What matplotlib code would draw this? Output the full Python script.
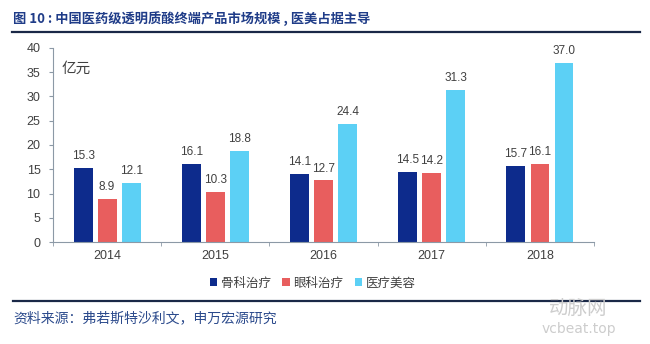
import matplotlib.pyplot as plt
import numpy as np

plt.rcParams['font.family'] = ['Noto Sans CJK SC', 'DejaVu Sans']

years = ['2014', '2015', '2016', '2017', '2018']
series = ['骨科治疗', '眼科治疗', '医疗美容']
ortho = [15.3, 16.1, 14.1, 14.5, 15.7]
ophth = [8.9, 10.3, 12.7, 14.2, 16.1]
aesthetic = [12.1, 18.8, 24.4, 31.3, 37.0]
colors = ['#0D2B8C', '#E85E5E', '#5CD0F5']

fig = plt.figure(figsize=(6.5, 3.44), dpi=100)
ax = fig.add_axes([0.0815, 0.2965, 0.8325, 0.564])

x = np.arange(len(years))
width = 0.175
step = 0.222
for i, (name, vals) in enumerate(zip(series, [ortho, ophth, aesthetic])):
    pos = x + (i - 1) * step
    ax.bar(pos, vals, width, color=colors[i], label=name)
    for p, v in zip(pos, vals):
        ax.text(p, v + 1.2, '%.1f' % v, ha='center', va='bottom',
                fontsize=8.5, color='#404040', family='Liberation Sans')

ax.set_xlim(-0.5, len(years) - 0.5)
ax.set_ylim(0, 40)
ax.set_yticks(range(0, 41, 5))
ax.set_xticks(x)
ax.set_xticklabels(years)
ax.set_xticks(np.arange(-0.5, len(years), 1), minor=True)
ax.tick_params(axis='x', which='major', length=0, pad=6)
ax.tick_params(axis='x', which='minor', length=3, color='#8C99A6', direction='out')
ax.tick_params(axis='y', length=3, color='#8C99A6', pad=6)
for lab in ax.get_xticklabels() + ax.get_yticklabels():
    lab.set_fontfamily('Liberation Sans')
    lab.set_fontsize(9)
    lab.set_color('#404040')
for s in ['top', 'right']:
    ax.spines[s].set_visible(False)
for s in ['left', 'bottom']:
    ax.spines[s].set_color('#8C99A6')
    ax.spines[s].set_linewidth(0.8)

ax.text(0.015, 0.93, '亿元', transform=ax.transAxes, fontsize=10.5,
        color='#404040', va='top')

leg = ax.legend(loc='upper center', bbox_to_anchor=(0.48, -0.12), ncol=3,
                frameon=False, fontsize=9, handlelength=0.6, handleheight=0.6,
                handletextpad=0.3, columnspacing=0.9)
for t in leg.get_texts():
    t.set_color('#404040')

# heading and footer
fig.text(0.02, 0.947, '图 10 : 中国医药级透明质酸终端产品市场规模 , 医美占据主导',
         fontsize=9.5, fontweight='bold', color='#1F3C88', va='center')
fig.add_artist(plt.Line2D([0.018, 0.985], [0.907, 0.907], color='#1A2847', lw=1.6))
fig.add_artist(plt.Line2D([0.02, 0.985], [0.125, 0.125], color='#1A2847', lw=1.6))
fig.text(0.02, 0.075, '资料来源：弗若斯特沙利文，申万宏源研究', fontsize=10,
         color='#2B4A8C', va='center')

# watermark
fig.text(0.89, 0.102, '动脉网', fontsize=14, color='#CDCDCD', ha='center', va='center')
fig.text(0.89, 0.045, 'vcbeat.top', fontsize=10, color='#CDCDCD', ha='center',
         va='center', family='DejaVu Sans')

fig.savefig('out.png', dpi=100)
